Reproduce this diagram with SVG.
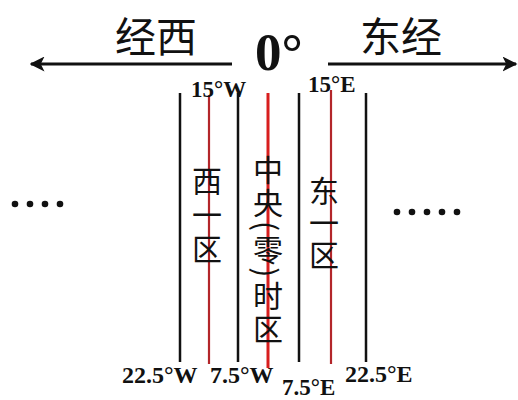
<svg xmlns="http://www.w3.org/2000/svg" width="518" height="400" viewBox="0 0 518 400">
<style>
.cjk{font-family:"Noto Sans CJK SC","Noto Sans",sans-serif;fill:#111}
.big{font-size:41px}
.v{font-size:30px;writing-mode:vertical-rl;text-anchor:start}
.lab{font-family:"Liberation Serif","Times New Roman",serif;font-weight:bold;fill:#111}
.blk{stroke:#111;stroke-width:2.5}
.red{stroke:#b3262a;stroke-width:2.2}
.redc{stroke:#d81e1e;stroke-width:3}
.axis{stroke:#111;stroke-width:3}
.dot{fill:#111}
</style>
<defs>
<marker id="ah" viewBox="0 0 10 10" refX="9" refY="5" markerWidth="5" markerHeight="5" orient="auto" markerUnits="strokeWidth">
<path d="M0,0 L10,5 L0,10 L2.5,5 Z" fill="#111"/>
</marker>
</defs>
<rect width="518" height="400" fill="#fff"/>
<g id="connectors">
<line class="axis" x1="232" y1="64" x2="31" y2="64" marker-end="url(#ah)"/>
<line class="axis" x1="328" y1="64" x2="516" y2="64" marker-end="url(#ah)"/>
<line class="blk" x1="180" y1="93" x2="180" y2="362"/>
<line class="blk" x1="238" y1="93" x2="238" y2="362"/>
<line class="blk" x1="299" y1="93" x2="299" y2="362"/>
<line class="blk" x1="366" y1="93" x2="366" y2="362"/>
<line class="red" x1="209" y1="95" x2="209" y2="364"/>
<line class="redc" x1="268" y1="93" x2="268" y2="368"/>
<line class="red" x1="331" y1="90" x2="331" y2="364"/>
</g>
<g id="west-label"><text class="cjk big" x="156" y="52" text-anchor="middle">经西</text></g>
<g id="east-label"><text class="cjk big" x="401" y="52" text-anchor="middle">东经</text></g>
<g id="zero"><text class="lab" x="255" y="70" font-size="53">0°</text></g>
<g id="top-labels">
<text class="lab" x="191" y="97" font-size="23">15°W</text>
<text class="lab" x="308" y="92" font-size="23">15°E</text>
</g>
<g id="bottom-labels">
<text class="lab" x="122" y="383" font-size="24">22.5°W</text>
<text class="lab" x="210" y="383" font-size="24">7.5°W</text>
<text class="lab" x="282" y="395" font-size="23">7.5°E</text>
<text class="lab" x="345" y="382" font-size="24">22.5°E</text>
</g>
<g id="zone-west">
<text class="cjk v" x="207" y="166" letter-spacing="4">西一区</text>
</g>
<g id="zone-central">
<text class="cjk v" x="268" y="155" letter-spacing="3">中央(零)时区</text>
</g>
<g id="zone-east">
<text class="cjk v" x="324" y="176" letter-spacing="2">东一区</text>
</g>
<g id="dots-left">
<circle class="dot" cx="15" cy="204" r="3.3"/>
<circle class="dot" cx="30" cy="204" r="3.3"/>
<circle class="dot" cx="45" cy="204" r="3.3"/>
<circle class="dot" cx="60" cy="204" r="3.3"/>
</g>
<g id="dots-right">
<circle class="dot" cx="397" cy="212" r="3.3"/>
<circle class="dot" cx="412" cy="212" r="3.3"/>
<circle class="dot" cx="427" cy="212" r="3.3"/>
<circle class="dot" cx="442" cy="212" r="3.3"/>
<circle class="dot" cx="457" cy="212" r="3.3"/>
</g>
</svg>
